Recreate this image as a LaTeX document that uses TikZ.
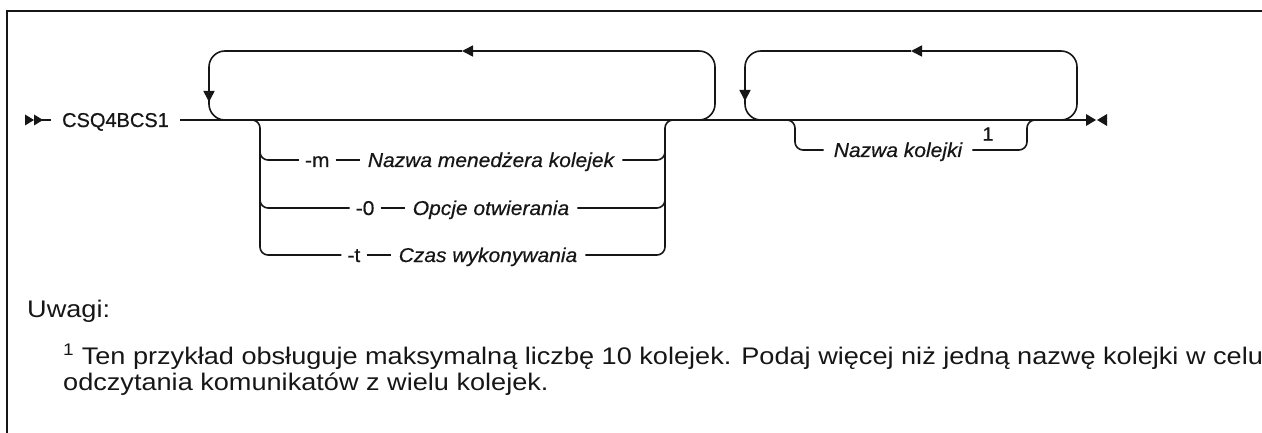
\documentclass[tikz,border=0pt]{standalone}
\usepackage{fontspec}
\setmainfont{Liberation Sans}
\newfontfamily\progfont[FakeBold=0.6]{Liberation Sans}
\newfontfamily\railfont[FakeStretch=1.05, FakeBold=0.5]{Liberation Sans}
\newfontfamily\notefont[FakeStretch=1.13]{Liberation Sans}
\usepackage{tikz}
\usetikzlibrary{arrows.meta, positioning, calc}
\definecolor{railInk}{HTML}{161616}
\tikzset{
  rail/.style={line width=1.6pt, draw=railInk},
  railArrow/.style={rail, -{Triangle[length=11pt, width=11pt]}},
  railFrame/.style={line width=2pt, draw=railInk},
  kwText/.style={font=\progfont\fontsize{20}{24}\selectfont, text=railInk, inner xsep=11pt,
                 inner ysep=2pt, text height=14pt, text depth=0pt},
  optText/.style={kwText, font=\railfont\fontsize{20}{24}\selectfont, inner xsep=6pt},
  varText/.style={kwText, font=\railfont\fontsize{20}{24}\selectfont\itshape, inner xsep=8pt},
  refText/.style={font=\railfont\fontsize{19}{21}\selectfont, text=railInk, inner sep=0pt},
  noteText/.style={font=\notefont\fontsize{24}{26}\selectfont, text=railInk, inner sep=0pt,
                   align=left},
}
\begin{document}
\begin{tikzpicture}[x=1pt, y=-1pt, node distance=24pt]
  \useasboundingbox (0,0) rectangle (1262,433);
  \draw[railFrame] (7,433) -- (7,10.7) -- (1262,10.7);

  % junction points of the rails
  \coordinate (mStart) at (25,120);
  \coordinate (mEnd) at (1086,120);
  \coordinate (aBL) at (209,120);
  \coordinate (aBR) at (715,120);
  \coordinate (aTop) at (462,51);
  \coordinate (aTip) at (209,102);
  \coordinate (sL) at (260,120);
  \coordinate (sR) at (665,120);
  \coordinate (bBL) at (745,120);
  \coordinate (bBR) at (1077,120);
  \coordinate (bTop) at (911,51);
  \coordinate (bTip) at (745,101);
  \coordinate (qL) at (795,120);
  \coordinate (qR) at (1027,120);

  \node[kwText] (prog) at (115.5,120) {CSQ4BCS1};
  \node[varText] (varM) at (491,160) {Nazwa menedżera kolejek};
  \node[optText, left=of varM] (optM) {-m};
  \node[varText] (varO) at (491,208) {Opcje otwierania};
  \node[optText, left=of varO] (optO) {-0};
  \node[varText] (varT) at (488,255) {Czas wykonywania};
  \node[optText, left=of varT] (optT) {-t};
  \node[varText, inner xsep=10pt] (qname) at (898,150) {Nazwa kolejki};
  \node[refText] (qref) at (988,134) {1};

  % main line with start and end marks
  \fill[railInk] (mStart) ++(0,-5.5) -- ++(9,5.5) -- ++(-9,5.5) -- cycle;
  \fill[railInk] ([xshift=9pt]mStart) ++(0,-5.5) -- ++(9,5.5) -- ++(-9,5.5) -- cycle;
  \draw[rail] ([xshift=15pt]mStart) -- (prog);
  \draw[rail] (prog) -- (mEnd);
  \fill[railInk] (mEnd) ++(0,-6) -- ++(10,6) -- ++(-10,6) -- cycle;
  \fill[railInk] ([xshift=21pt]mEnd) ++(0,-6) -- ++(-10,6) -- ++(10,6) -- cycle;

  % first repeat loop
  \draw[railArrow, rounded corners=16] ($(aBR)+(-26,0)$) -- (aBR) -- (aBR |- aTop) -- (aTop);
  \draw[railArrow, rounded corners=16] (aTop) -- (aBL |- aTop) -- (aTip);
  \draw[rail, rounded corners=16] ($(aTip)+(0,-8)$) -- (aBL) -- ($(aBL)+(26,0)$);

  % option stack
  \draw[rail, rounded corners=8] ($(sL)+(-20,0)$) -- (sL) -- (sL |- optT) -- (optT);
  \draw[rail, rounded corners=8] ($(sL |- optM)+(0,-20)$) -- (sL |- optM) -- (optM);
  \draw[rail, rounded corners=8] ($(sL |- optO)+(0,-20)$) -- (sL |- optO) -- (optO);
  \draw[rail] (optM) -- (varM);
  \draw[rail] (optO) -- (varO);
  \draw[rail] (optT) -- (varT);
  \draw[rail, rounded corners=8] (varM) -- (sR |- varM) -- ($(sR |- varM)+(0,-20)$);
  \draw[rail, rounded corners=8] (varO) -- (sR |- varO) -- ($(sR |- varO)+(0,-20)$);
  \draw[rail, rounded corners=8] (varT) -- (sR |- varT) -- (sR) -- ($(sR)+(20,0)$);

  % second repeat loop
  \draw[railArrow, rounded corners=16] ($(bBR)+(-26,0)$) -- (bBR) -- (bBR |- bTop) -- (bTop);
  \draw[railArrow, rounded corners=16] (bTop) -- (bBL |- bTop) -- (bTip);
  \draw[rail, rounded corners=16] ($(bTip)+(0,-8)$) -- (bBL) -- ($(bBL)+(26,0)$);
  \draw[rail, rounded corners=8] ($(qL)+(-20,0)$) -- (qL) -- (qL |- qname) -- (qname);
  \draw[rail, rounded corners=8] (qname) -- (qR |- qname) -- (qR) -- ($(qR)+(20,0)$);

  \node[noteText, anchor=base west] (notes) at (27,317) {Uwagi:};
  \node[noteText, anchor=north west] (note1) at (63,344)
    {\textsuperscript{1} Ten przykład obsługuje maksymalną liczbę 10 kolejek. Podaj więcej niż jedną nazwę kolejki w celu\\
     odczytania komunikatów z wielu kolejek.};
\end{tikzpicture}
\end{document}
